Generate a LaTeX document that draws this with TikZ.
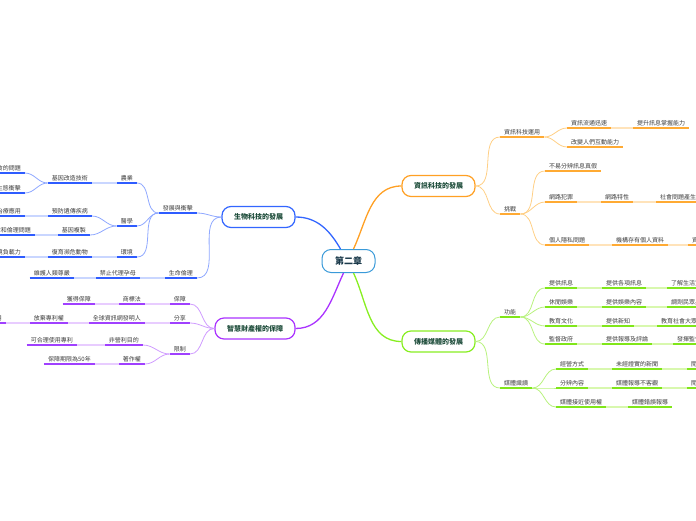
\documentclass[tikz,border=0pt]{standalone}
\usepackage{fontspec}
\setmainfont{Noto Sans CJK TC}
\usepackage{tikz}
\usetikzlibrary{positioning,calc}
\definecolor{RootBlue}{HTML}{3A9AD9}
\definecolor{RootText}{HTML}{1B3A4B}
\definecolor{TopicText}{HTML}{1E4D3B}
\definecolor{LeafText}{HTML}{3C3C3C}
\definecolor{BioMain}{HTML}{3366FF}
\definecolor{BioDark}{HTML}{2E5CFF}
\definecolor{BioCurve}{HTML}{8FA8FF}
\definecolor{BioLight}{HTML}{C9D6FF}
\definecolor{IPMain}{HTML}{AA33FF}
\definecolor{IPDark}{HTML}{A040FF}
\definecolor{IPCurve}{HTML}{D09CFF}
\definecolor{IPLight}{HTML}{E8CCFF}
\definecolor{InfoMain}{HTML}{FFA024}
\definecolor{InfoDark}{HTML}{FFAA33}
\definecolor{InfoCurve}{HTML}{FFCF85}
\definecolor{InfoLight}{HTML}{FFE3BA}
\definecolor{MediaMain}{HTML}{88EE22}
\definecolor{MediaDark}{HTML}{80E619}
\definecolor{MediaCurve}{HTML}{B8F27E}
\definecolor{MediaLight}{HTML}{D8F8AE}
\tikzset{
    % Root node style
    rootnode/.style={
        draw=RootBlue,
        fill=white,
        line width=1pt,
        rounded corners=9pt,
        minimum height=23pt,
        inner xsep=13pt,
        text=RootText,
        font=\fontsize{9}{10}\selectfont\bfseries
    },
    % Main topic style
    topicnode/.style={
        draw=#1,
        fill=white,
        line width=1.2pt,
        rounded corners=9pt,
        minimum height=21pt,
        inner xsep=12pt,
        text=TopicText,
        font=\fontsize{7}{8}\selectfont\bfseries
    },
    % Leaf label with thick underline
    leafnode/.style={
        inner xsep=4pt,
        inner ysep=2pt,
        text=LeafText,
        font=\fontsize{6}{7}\selectfont,
        append after command={(\tikzlastnode.south west) edge[line width=2pt, draw=#1] (\tikzlastnode.south east)}
    },
    % Main branch line
    mainline/.style={
        line width=1.3pt,
        draw=#1
    },
    % Thin curved link
    curveline/.style={
        line width=0.8pt,
        draw=#1
    },
    % Pale straight link between labels
    chainline/.style={
        line width=2pt,
        draw=#1
    }
}
\begin{document}
\begin{tikzpicture}[x=1pt,y=-1pt]
    \useasboundingbox (0,0) rectangle (696,520);

    % root and topics
    \node[rootnode] (root) at (348.5,261) {第二章};
    \node[topicnode=BioMain] (bio) at (258.5,217) {生物科技的發展};
    \node[topicnode=IPMain] (ip) at (255,328.5) {智慧財產權的保障};
    \node[topicnode=InfoMain] (info) at (438.5,186) {資訊科技的發展};
    \node[topicnode=MediaMain] (media) at (438.5,341.5) {傳播媒體的發展};

    \draw[mainline=BioMain] ([xshift=-8pt]root.north) to[out=120,in=0] (bio.east);
    \draw[mainline=InfoMain] ([xshift=5pt]root.north) to[out=65,in=180] (info.west);
    \draw[mainline=IPMain] ([xshift=-5pt]root.south) to[out=-115,in=0] (ip.east);
    \draw[mainline=MediaMain] ([xshift=5pt]root.south) to[out=-65,in=180] (media.west);

    % biotech
    \node[leafnode=BioDark, anchor=south east] (dev) at (197,213) {發展與衝擊};
    \node[leafnode=BioDark, anchor=south east] (agri) at (137,183) {農業};
    \node[leafnode=BioDark, anchor=south east] (gmo) at (92,183) {基因改造技術};
    \node[leafnode=BioDark, anchor=south east] (gmoA) at (25,173) {解決糧食的問題};
    \node[leafnode=BioDark, anchor=south east] (gmoB) at (25,193) {造成生態衝擊};
    \node[leafnode=BioDark, anchor=south east] (med) at (137,226) {醫學};
    \node[leafnode=BioDark, anchor=south east] (prev) at (92,216) {預防遺傳疾病};
    \node[leafnode=BioDark, anchor=south east] (prevA) at (25,216) {疾病治療應用};
    \node[leafnode=BioDark, anchor=south east] (clone) at (90,235) {基因複製};
    \node[leafnode=BioDark, anchor=south east] (cloneA) at (35,235) {引發法律和倫理問題};
    \node[leafnode=BioDark, anchor=south east] (env) at (137,257) {環境};
    \node[leafnode=BioDark, anchor=south east] (save) at (92,257) {復育瀕危動物};
    \node[leafnode=BioDark, anchor=south east] (saveA) at (25,257) {提升環境負載力};
    \node[leafnode=BioDark, anchor=south east] (ethic) at (197,278) {生命倫理};
    \node[leafnode=BioDark, anchor=south east] (surro) at (140,278) {禁止代理孕母};
    \node[leafnode=BioDark, anchor=south east] (dign) at (74,278) {維護人類尊嚴};

    \draw[curveline=BioCurve] (bio.west) to[out=180,in=0] (dev.south east);
    \draw[curveline=BioCurve] (bio.west) to[out=180,in=0] (ethic.south east);
    \draw[curveline=BioCurve] (dev.south west) to[out=180,in=0] (agri.south east);
    \draw[curveline=BioCurve] (dev.south west) to[out=180,in=0] (med.south east);
    \draw[curveline=BioCurve] (dev.south west) to[out=180,in=0] (env.south east);
    \draw[curveline=BioCurve] (gmo.south west) to[out=180,in=0] (gmoA.south east);
    \draw[curveline=BioCurve] (gmo.south west) to[out=180,in=0] (gmoB.south east);
    \draw[curveline=BioCurve] (med.south west) to[out=180,in=0] (prev.south east);
    \draw[curveline=BioCurve] (med.south west) to[out=180,in=0] (clone.south east);
    \draw[chainline=BioLight] (agri.south west) -- (gmo.south east);
    \draw[chainline=BioLight] (prev.south west) -- (prevA.south east);
    \draw[chainline=BioLight] (clone.south west) -- (cloneA.south east);
    \draw[chainline=BioLight] (env.south west) -- (save.south east);
    \draw[chainline=BioLight] (save.south west) -- (saveA.south east);
    \draw[chainline=BioLight] (ethic.south west) -- (surro.south east);
    \draw[chainline=BioLight] (surro.south west) -- (dign.south east);

    % intellectual property
    \node[leafnode=IPDark, anchor=south east] (guard) at (190,304) {保障};
    \node[leafnode=IPDark, anchor=south east] (tm) at (145,304) {商標法};
    \node[leafnode=IPDark, anchor=south east] (tmA) at (95,304) {獲得保障};
    \node[leafnode=IPDark, anchor=south east] (share) at (190,323) {分享};
    \node[leafnode=IPDark, anchor=south east] (www) at (145,323) {全球資訊網發明人};
    \node[leafnode=IPDark, anchor=south east] (waive) at (68,323) {放棄專利權};
    \node[leafnode=IPDark, anchor=south east] (waiveA) at (6,323) {供大眾免費使用};
    \node[leafnode=IPDark, anchor=south east] (limit) at (190,354) {限制};
    \node[leafnode=IPDark, anchor=south east] (np) at (143,345) {非營利目的};
    \node[leafnode=IPDark, anchor=south east] (npA) at (77,345) {可合理使用專利};
    \node[leafnode=IPDark, anchor=south east] (copy) at (145,364) {著作權};
    \node[leafnode=IPDark, anchor=south east] (copyA) at (95,364) {保障期限為50年};

    \draw[curveline=IPCurve] (ip.west) to[out=180,in=0] (guard.south east);
    \draw[curveline=IPCurve] (ip.west) to[out=180,in=0] (share.south east);
    \draw[curveline=IPCurve] (ip.west) to[out=180,in=0] (limit.south east);
    \draw[curveline=IPCurve] (limit.south west) to[out=180,in=0] (np.south east);
    \draw[curveline=IPCurve] (limit.south west) to[out=180,in=0] (copy.south east);
    \draw[chainline=IPLight] (guard.south west) -- (tm.south east);
    \draw[chainline=IPLight] (tm.south west) -- (tmA.south east);
    \draw[chainline=IPLight] (share.south west) -- (www.south east);
    \draw[chainline=IPLight] (www.south west) -- (waive.south east);
    \draw[chainline=IPLight] (waive.south west) -- (waiveA.south east);
    \draw[chainline=IPLight] (np.south west) -- (npA.south east);
    \draw[chainline=IPLight] (copy.south west) -- (copyA.south east);

    % information technology
    \node[leafnode=InfoDark, anchor=south west] (use) at (500,137) {資訊科技運用};
    \node[leafnode=InfoDark, anchor=south west] (flow) at (567,128) {資訊流通迅速};
    \node[leafnode=InfoDark, anchor=south west] (flowA) at (633,128) {提升訊息掌握能力};
    \node[leafnode=InfoDark, anchor=south west] (inter) at (567,147) {改變人們互動能力};
    \node[leafnode=InfoDark, anchor=south west] (chal) at (500,214) {挑戰};
    \node[leafnode=InfoDark, anchor=south west] (fake) at (545,171) {不易分辨訊息真假};
    \node[leafnode=InfoDark, anchor=south west] (crime) at (545,202) {網路犯罪};
    \node[leafnode=InfoDark, anchor=south west] (net) at (601,202) {網路特性};
    \node[leafnode=InfoDark, anchor=south west] (soc) at (656,202) {社會問題產生};
    \node[leafnode=InfoDark, anchor=south west] (priv) at (545,245) {個人隱私問題};
    \node[leafnode=InfoDark, anchor=south west] (org) at (612,245) {機構存有個人資料};
    \node[leafnode=InfoDark, anchor=south west] (orgA) at (688,245) {資料外洩};

    \draw[curveline=InfoCurve] (info.east) to[out=0,in=180] (use.south west);
    \draw[curveline=InfoCurve] (info.east) to[out=0,in=180] (chal.south west);
    \draw[curveline=InfoCurve] (use.south east) to[out=0,in=180] (flow.south west);
    \draw[curveline=InfoCurve] (use.south east) to[out=0,in=180] (inter.south west);
    \draw[curveline=InfoCurve] (chal.south east) to[out=0,in=180] (fake.south west);
    \draw[curveline=InfoCurve] (chal.south east) to[out=0,in=180] (crime.south west);
    \draw[curveline=InfoCurve] (chal.south east) to[out=0,in=180] (priv.south west);
    \draw[chainline=InfoLight] (flow.south east) -- (flowA.south west);
    \draw[chainline=InfoLight] (crime.south east) -- (net.south west);
    \draw[chainline=InfoLight] (net.south east) -- (soc.south west);
    \draw[chainline=InfoLight] (priv.south east) -- (org.south west);
    \draw[chainline=InfoLight] (org.south east) -- (orgA.south west);

    % media
    \node[leafnode=MediaDark, anchor=south west] (func) at (500,317) {功能};
    \node[leafnode=MediaDark, anchor=south west] (news) at (545,288) {提供訊息};
    \node[leafnode=MediaDark, anchor=south west] (newsB) at (602,288) {提供各項訊息};
    \node[leafnode=MediaDark, anchor=south west] (newsC) at (667,288) {了解生活資訊};
    \node[leafnode=MediaDark, anchor=south west] (fun) at (545,307) {休閒娛樂};
    \node[leafnode=MediaDark, anchor=south west] (funB) at (602,307) {提供娛樂內容};
    \node[leafnode=MediaDark, anchor=south west] (funC) at (667,307) {調劑民眾身心};
    \node[leafnode=MediaDark, anchor=south west] (edu) at (545,326) {教育文化};
    \node[leafnode=MediaDark, anchor=south west] (eduB) at (602,326) {提供新知};
    \node[leafnode=MediaDark, anchor=south west] (eduC) at (657,326) {教育社會大眾};
    \node[leafnode=MediaDark, anchor=south west] (watch) at (545,344) {監督政府};
    \node[leafnode=MediaDark, anchor=south west] (watchB) at (602,344) {提供報導及評論};
    \node[leafnode=MediaDark, anchor=south west] (watchC) at (673,344) {發揮監督功能};
    \node[leafnode=MediaDark, anchor=south west] (lit) at (500,388) {媒體識讀};
    \node[leafnode=MediaDark, anchor=south west] (op) at (556,369) {經營方式};
    \node[leafnode=MediaDark, anchor=south west] (opB) at (612,369) {未經證實的新聞};
    \node[leafnode=MediaDark, anchor=south west] (opC) at (687,369) {閱聽人應查證};
    \node[leafnode=MediaDark, anchor=south west] (dis) at (556,388) {分辨內容};
    \node[leafnode=MediaDark, anchor=south west] (disB) at (612,388) {媒體報導不客觀};
    \node[leafnode=MediaDark, anchor=south west] (disC) at (687,388) {閱聽人應判斷};
    \node[leafnode=MediaDark, anchor=south west] (acc) at (556,407) {媒體接近使用權};
    \node[leafnode=MediaDark, anchor=south west] (accB) at (628,407) {媒體錯誤報導};

    \draw[curveline=MediaCurve] (media.east) to[out=0,in=180] (func.south west);
    \draw[curveline=MediaCurve] (media.east) to[out=0,in=180] (lit.south west);
    \foreach \n in {news,fun,edu,watch}
        \draw[curveline=MediaCurve] (func.south east) to[out=0,in=180] (\n.south west);
    \foreach \n in {op,dis,acc}
        \draw[curveline=MediaCurve] (lit.south east) to[out=0,in=180] (\n.south west);
    \foreach \a/\b in {news/newsB,newsB/newsC,fun/funB,funB/funC,edu/eduB,eduB/eduC,watch/watchB,watchB/watchC,op/opB,opB/opC,dis/disB,disB/disC,acc/accB}
        \draw[chainline=MediaLight] (\a.south east) -- (\b.south west);
\end{tikzpicture}
\end{document}
